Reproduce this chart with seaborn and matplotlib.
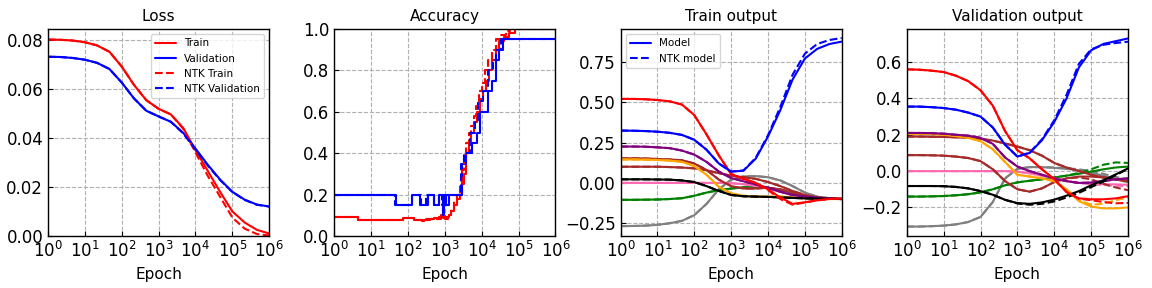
import matplotlib
matplotlib.use("Agg")
import matplotlib.pyplot as plt
import seaborn as sns
from matplotlib.ticker import LogLocator, NullLocator

# ---------------- data ----------------
# common epoch grid (1/3 decade steps)
epochs = [1, 2.154, 4.642, 10, 21.54, 46.42, 100, 215.4, 464.2, 1000, 2154, 4642,
          1e4, 2.154e4, 4.642e4, 1e5, 2.154e5, 4.642e5, 1e6]

# Loss
loss_train = [0.0800, 0.0799, 0.0796, 0.0789, 0.0776, 0.0750, 0.0690, 0.0615, 0.0553, 0.0518,
              0.0495, 0.0440, 0.0350, 0.0265, 0.0180, 0.0100, 0.0055, 0.0025, 0.0010]
loss_val = [0.0730, 0.0729, 0.0725, 0.0718, 0.0705, 0.0680, 0.0625, 0.0560, 0.0510, 0.0487,
            0.0465, 0.0420, 0.0356, 0.0290, 0.0230, 0.0180, 0.0148, 0.0128, 0.0120]
loss_train_ntk = [0.0800, 0.0799, 0.0796, 0.0789, 0.0776, 0.0750, 0.0690, 0.0615, 0.0553, 0.0518,
                  0.0495, 0.0437, 0.0340, 0.0245, 0.0160, 0.0075, 0.0030, 0.0008, 0.0002]
loss_val_ntk = [0.0730, 0.0729, 0.0725, 0.0718, 0.0705, 0.0680, 0.0625, 0.0560, 0.0510, 0.0487,
                0.0465, 0.0418, 0.0352, 0.0287, 0.0228, 0.0179, 0.0147, 0.0127, 0.0120]

# Accuracy (step curves)
acc_train_ep = [1, 4.3, 72, 150, 240, 280, 400, 500, 600, 700, 800, 900, 1100, 1300, 1500, 1800,
                2100, 2500, 2900, 3300, 3800, 4400, 5000, 6000, 7500, 9000, 10500, 13000, 15500,
                19000, 24000, 30000, 40000, 55000, 80000, 1e6]
acc_train = [0.09, 0.077, 0.088, 0.077, 0.072, 0.077, 0.08, 0.085, 0.08, 0.09, 0.10, 0.085, 0.09,
             0.10, 0.12, 0.15, 0.18, 0.20, 0.25, 0.30, 0.40, 0.45, 0.50, 0.55, 0.60, 0.66, 0.70,
             0.75, 0.80, 0.85, 0.90, 0.94, 0.96, 0.98, 1.0, 1.0]
acc_train_ntk_ep = [1, 4.3, 72, 150, 300, 600, 800, 1000, 1200, 1500, 1800, 2100, 2500, 2900, 3300,
                    3800, 4400, 5000, 6000, 7000, 8500, 10000, 12000, 15000, 19000, 24000, 32000,
                    45000, 60000, 1e6]
acc_train_ntk = [0.09, 0.077, 0.088, 0.077, 0.08, 0.082, 0.095, 0.08, 0.10, 0.13, 0.17, 0.20, 0.25,
                 0.32, 0.38, 0.45, 0.50, 0.53, 0.58, 0.63, 0.70, 0.74, 0.80, 0.85, 0.90, 0.95, 0.97,
                 0.99, 1.0, 1.0]
acc_val_ep = [1, 47, 129, 217, 357, 522, 674, 900, 960, 1050, 1330, 2950, 3630, 5500, 7400, 9100,
              14800, 19500, 24500, 28800, 38000, 1e6]
acc_val = [0.20, 0.15, 0.20, 0.15, 0.20, 0.15, 0.20, 0.10, 0.20, 0.15, 0.20, 0.35, 0.40, 0.45,
           0.50, 0.60, 0.70, 0.75, 0.85, 0.90, 0.95, 0.95]
acc_val_ntk_ep = [1, 45, 130, 230, 300, 500, 700, 820, 1000, 2700, 3300, 4800, 6500, 8000, 11000,
                  15000, 20000, 25000, 33000, 1e6]
acc_val_ntk = [0.20, 0.15, 0.20, 0.15, 0.20, 0.15, 0.20, 0.15, 0.20, 0.35, 0.40, 0.50, 0.55, 0.65,
               0.70, 0.80, 0.85, 0.90, 0.95, 0.95]

# Train output (model, NTK model)
tr_blue = [0.324, 0.323, 0.321, 0.317, 0.310, 0.297, 0.267, 0.205, 0.120, 0.070, 0.075, 0.150,
           0.287, 0.450, 0.640, 0.770, 0.830, 0.860, 0.875]
tr_blue_ntk = [0.324, 0.323, 0.321, 0.317, 0.310, 0.297, 0.267, 0.205, 0.120, 0.070, 0.077, 0.155,
               0.295, 0.470, 0.670, 0.800, 0.860, 0.885, 0.897]
tr_red = [0.520, 0.520, 0.518, 0.513, 0.505, 0.485, 0.420, 0.300, 0.170, 0.055, 0.025, 0.000,
          -0.040, -0.090, -0.130, -0.120, -0.108, -0.100, -0.097]
tr_red_ntk = [0.520, 0.520, 0.518, 0.513, 0.505, 0.485, 0.420, 0.300, 0.170, 0.055, 0.025, 0.000,
              -0.045, -0.100, -0.135, -0.122, -0.108, -0.100, -0.097]
tr_purple = [0.225, 0.225, 0.224, 0.220, 0.215, 0.200, 0.175, 0.130, 0.070, 0.030, 0.010, -0.010,
             -0.030, -0.055, -0.075, -0.085, -0.092, -0.097, -0.100]
tr_orange = [0.145, 0.145, 0.144, 0.142, 0.138, 0.130, 0.105, 0.050, -0.025, -0.065, -0.080, -0.085,
             -0.085, -0.085, -0.090, -0.095, -0.098, -0.100, -0.100]
tr_brown_a = [0.152, 0.152, 0.151, 0.148, 0.145, 0.140, 0.120, 0.080, 0.020, -0.020, -0.035, -0.035,
              -0.030, -0.040, -0.060, -0.080, -0.092, -0.098, -0.100]
tr_brown_b = [0.100, 0.100, 0.100, 0.100, 0.098, 0.095, 0.090, 0.078, 0.060, 0.045, 0.035, 0.025,
              0.005, -0.020, -0.050, -0.075, -0.090, -0.097, -0.100]
tr_pink = [0.000, 0.000, 0.000, 0.000, 0.000, 0.000, 0.000, 0.000, 0.000, -0.002, -0.008, -0.020,
           -0.035, -0.055, -0.075, -0.088, -0.095, -0.098, -0.100]
tr_green = [-0.105, -0.105, -0.104, -0.103, -0.100, -0.095, -0.080, -0.060, -0.045, -0.035, -0.028,
            -0.025, -0.030, -0.045, -0.065, -0.085, -0.095, -0.098, -0.100]
tr_gray = [-0.268, -0.267, -0.265, -0.260, -0.250, -0.235, -0.200, -0.130, -0.040, 0.020, 0.040,
           0.042, 0.035, 0.015, -0.020, -0.060, -0.085, -0.095, -0.100]
tr_gray_ntk = [-0.268, -0.267, -0.265, -0.260, -0.250, -0.235, -0.200, -0.130, -0.040, 0.020, 0.040,
               0.045, 0.040, 0.022, -0.012, -0.052, -0.080, -0.093, -0.099]
tr_black = [0.022, 0.022, 0.022, 0.021, 0.020, 0.015, 0.005, -0.020, -0.050, -0.075, -0.083, -0.085,
            -0.087, -0.090, -0.093, -0.096, -0.098, -0.099, -0.100]

# Validation output (model, NTK model)
va_blue = [0.355, 0.355, 0.352, 0.347, 0.338, 0.322, 0.300, 0.240, 0.145, 0.080, 0.100, 0.170,
           0.270, 0.400, 0.570, 0.665, 0.700, 0.715, 0.730]
va_blue_ntk = [0.355, 0.355, 0.352, 0.347, 0.338, 0.322, 0.300, 0.240, 0.145, 0.080, 0.102, 0.175,
               0.280, 0.420, 0.590, 0.670, 0.695, 0.705, 0.712]
va_red = [0.560, 0.558, 0.553, 0.545, 0.525, 0.495, 0.445, 0.360, 0.220, 0.115, 0.070, 0.010,
          -0.045, -0.115, -0.150, -0.155, -0.155, -0.150, -0.138]
va_red_ntk = [0.560, 0.558, 0.553, 0.545, 0.525, 0.495, 0.445, 0.360, 0.220, 0.115, 0.070, 0.010,
              -0.045, -0.115, -0.152, -0.160, -0.170, -0.177, -0.175]
va_purple = [0.210, 0.210, 0.209, 0.206, 0.200, 0.195, 0.183, 0.150, 0.075, 0.025, 0.000, -0.020,
             -0.040, -0.055, -0.065, -0.063, -0.055, -0.045, -0.040]
va_orange = [0.205, 0.205, 0.204, 0.200, 0.193, 0.183, 0.165, 0.120, 0.050, -0.020, -0.030, -0.040,
             -0.055, -0.100, -0.165, -0.195, -0.205, -0.205, -0.200]
va_orange_ntk = [0.205, 0.205, 0.204, 0.200, 0.193, 0.183, 0.165, 0.120, 0.050, -0.020, -0.030,
                 -0.040, -0.055, -0.100, -0.160, -0.185, -0.180, -0.160, -0.145]
va_brown_a = [0.190, 0.190, 0.189, 0.188, 0.186, 0.183, 0.178, 0.168, 0.152, 0.135, 0.115, 0.085,
              0.045, 0.020, 0.000, -0.020, -0.035, -0.045, -0.055]
va_brown_b = [0.088, 0.088, 0.087, 0.085, 0.080, 0.072, 0.055, 0.010, -0.055, -0.100, -0.113, -0.095,
              -0.060, -0.040, -0.030, -0.030, -0.035, -0.045, -0.055]
va_brown_b_ntk = [0.088, 0.088, 0.087, 0.085, 0.080, 0.072, 0.055, 0.010, -0.055, -0.100, -0.113,
                  -0.095, -0.060, -0.040, -0.035, -0.045, -0.070, -0.090, -0.105]
va_pink = [0.000, 0.000, 0.000, 0.000, 0.000, 0.000, 0.000, 0.000, 0.000, -0.003, -0.012, -0.025,
           -0.040, -0.055, -0.065, -0.070, -0.072, -0.073, -0.075]
va_pink_ntk = [0.000, 0.000, 0.000, 0.000, 0.000, 0.000, 0.000, 0.000, 0.000, -0.003, -0.012,
               -0.025, -0.040, -0.055, -0.065, -0.072, -0.076, -0.080, -0.083]
va_black = [-0.082, -0.082, -0.082, -0.083, -0.087, -0.095, -0.110, -0.130, -0.158, -0.176, -0.180,
            -0.172, -0.157, -0.135, -0.110, -0.078, -0.050, -0.018, 0.015]
va_black_ntk = [-0.082, -0.082, -0.082, -0.083, -0.087, -0.095, -0.110, -0.130, -0.158, -0.178,
                -0.185, -0.180, -0.167, -0.145, -0.120, -0.088, -0.058, -0.022, 0.012]
va_green = [-0.140, -0.140, -0.139, -0.137, -0.133, -0.127, -0.117, -0.100, -0.078, -0.062, -0.053,
            -0.045, -0.035, -0.025, -0.015, -0.003, 0.010, 0.020, 0.025]
va_green_ntk = [-0.140, -0.140, -0.139, -0.137, -0.133, -0.127, -0.117, -0.100, -0.078, -0.062,
                -0.053, -0.045, -0.035, -0.025, -0.010, 0.010, 0.035, 0.048, 0.045]
va_gray = [-0.305, -0.305, -0.303, -0.300, -0.293, -0.280, -0.252, -0.170, -0.040, 0.013, 0.022,
           0.022, 0.018, 0.012, 0.005, -0.008, -0.025, -0.045, -0.062]
va_gray_ntk = [-0.305, -0.305, -0.303, -0.300, -0.293, -0.280, -0.252, -0.170, -0.040, 0.013, 0.022,
               0.022, 0.020, 0.016, 0.010, 0.000, -0.015, -0.032, -0.045]

# ---------------- style ----------------
sns.set_style("ticks")
plt.rcParams.update({
    "font.family": ["DejaVu Sans"],
    "axes.grid": True,
    "grid.linestyle": "--",
    "grid.color": "#b0b0b0",
    "grid.linewidth": 0.8,
    "axes.edgecolor": "black",
    "axes.linewidth": 1.0,
    "xtick.direction": "in",
    "ytick.direction": "in",
    "xtick.color": "black",
    "ytick.color": "black",
    "text.color": "black",
    "axes.labelcolor": "black",
    "xtick.labelsize": 12,
    "ytick.labelsize": 12,
})

fig, axes = plt.subplots(1, 4, figsize=(11.52, 2.88), dpi=100)
fig.subplots_adjust(left=48 / 1152, right=1128 / 1152, bottom=52 / 288, top=259 / 288, wspace=0.294)

LW = 1.5


def draw(ax, x, y, color, ls="-", label=None, step=False):
    kw = dict(x=x, y=y, ax=ax, color=color, linestyle=ls, lw=LW, estimator=None, sort=False)
    if label is not None:
        kw["label"] = label
    if step:
        kw["drawstyle"] = "steps-post"
    sns.lineplot(**kw)


# Loss
ax = axes[0]
draw(ax, epochs, loss_train, "red", "-", "Train")
draw(ax, epochs, loss_val, "blue", "-", "Validation")
draw(ax, epochs, loss_train_ntk, "red", "--", "NTK Train")
draw(ax, epochs, loss_val_ntk, "blue", "--", "NTK Validation")
ax.set_ylim(0, 0.0843)
ax.legend(loc="upper right", fontsize=7.5)
ax.set_title("Loss", fontsize=11)

# Accuracy
ax = axes[1]
draw(ax, acc_train_ep, acc_train, "red", "-", step=True)
draw(ax, acc_val_ep, acc_val, "blue", "-", step=True)
draw(ax, acc_train_ntk_ep, acc_train_ntk, "red", "--", step=True)
draw(ax, acc_val_ntk_ep, acc_val_ntk, "blue", "--", step=True)
ax.set_ylim(0, 1.0)
ax.set_title("Accuracy", fontsize=11)

# Train output
ax = axes[2]
train_curves = [
    (tr_gray, tr_gray, "gray"),
    (tr_green, tr_green, "green"),
    (tr_pink, tr_pink, "hotpink"),
    (tr_brown_b, tr_brown_b, "brown"),
    (tr_brown_a, tr_brown_a, "brown"),
    (tr_orange, tr_orange, "orange"),
    (tr_purple, tr_purple, "purple"),
    (tr_black, tr_black, "black"),
    (tr_red, tr_red_ntk, "red"),
]
for m, n, c in train_curves:
    draw(ax, epochs, m, c, "-")
    draw(ax, epochs, n, c, "--")
draw(ax, epochs, tr_blue, "blue", "-", "Model")
draw(ax, epochs, tr_blue_ntk, "blue", "--", "NTK model")
ax.set_ylim(-0.329, 0.953)
ax.legend(loc="upper left", fontsize=7.5)
ax.set_title("Train output", fontsize=11)

# Validation output
ax = axes[3]
val_curves = [
    (va_gray, va_gray_ntk, "gray"),
    (va_green, va_green_ntk, "green"),
    (va_pink, va_pink_ntk, "hotpink"),
    (va_brown_b, va_brown_b_ntk, "brown"),
    (va_brown_a, va_brown_a, "brown"),
    (va_orange, va_orange_ntk, "orange"),
    (va_purple, va_purple, "purple"),
    (va_black, va_black_ntk, "black"),
    (va_red, va_red_ntk, "red"),
    (va_blue, va_blue_ntk, "blue"),
]
for m, n, c in val_curves:
    draw(ax, epochs, m, c, "-")
    draw(ax, epochs, n, c, "--")
ax.set_ylim(-0.357, 0.782)
ax.set_title("Validation output", fontsize=11)

for ax in axes:
    ax.set_xscale("log")
    ax.set_xlim(1, 1e6)
    ax.xaxis.set_major_locator(LogLocator(base=10, numticks=10))
    ax.xaxis.set_minor_locator(NullLocator())
    ax.set_xlabel("Epoch", fontsize=11)
    ax.set_ylabel("")
    ax.tick_params(which="both", direction="in", length=3.5, width=0.8)
    for s in ax.spines.values():
        s.set_visible(True)
        s.set_color("black")

for ax in (axes[1], axes[3]):
    leg = ax.get_legend()
    if leg is not None:
        leg.remove()

fig.savefig("out.png", dpi=100)
